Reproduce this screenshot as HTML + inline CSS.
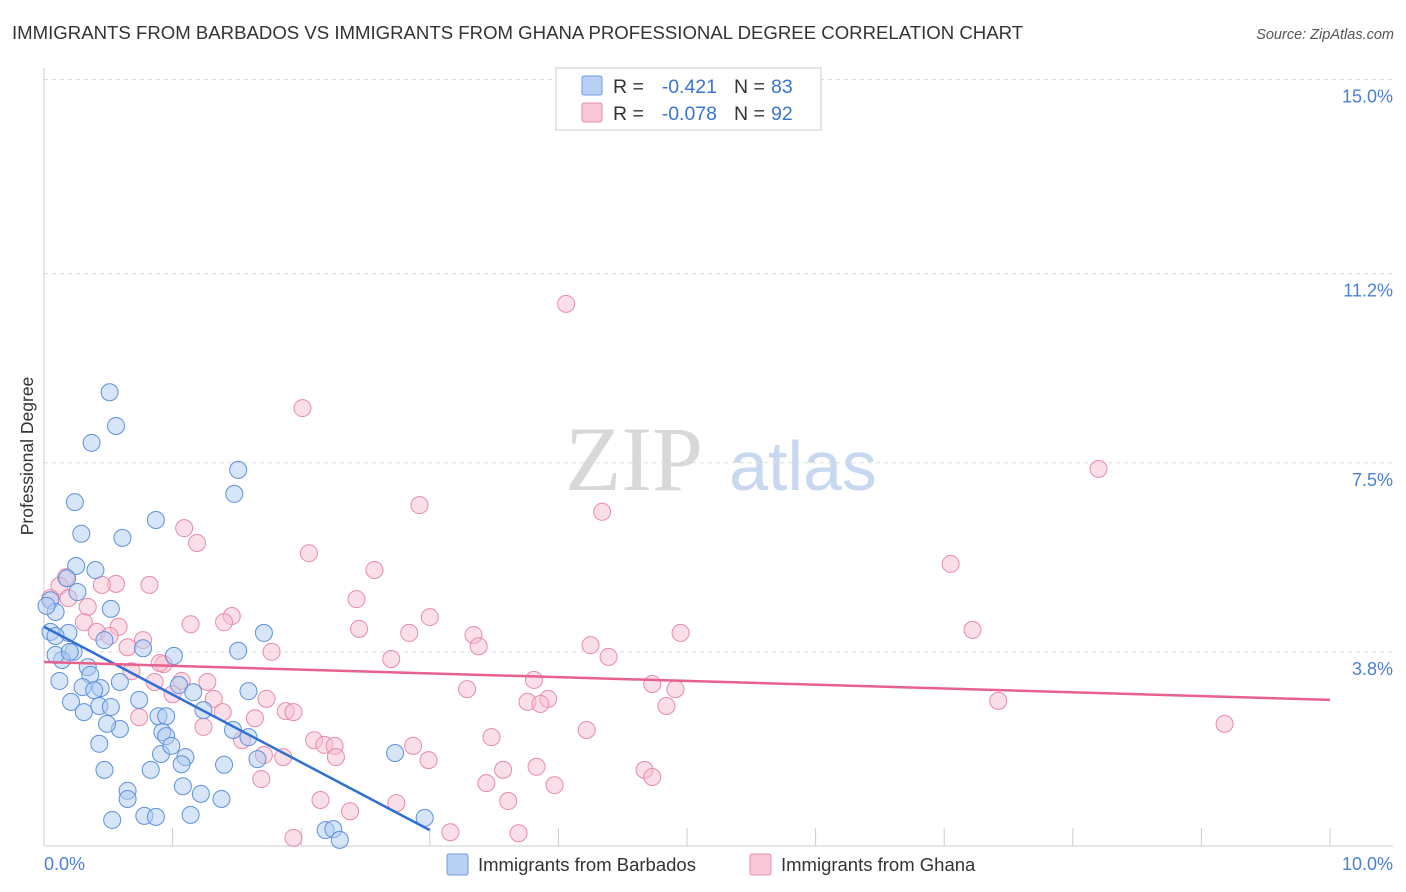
<!DOCTYPE html>
<html><head><meta charset="utf-8">
<style>
body{margin:0;background:#fff;font-family:"Liberation Sans",sans-serif;}
#wrap{position:relative;width:1406px;height:892px;overflow:hidden;}
</style></head>
<body>
<div id="wrap">
<svg id="svg" width="1406" height="892" xmlns="http://www.w3.org/2000/svg">
<text x="12" y="39" font-size="18.6" fill="#333">IMMIGRANTS FROM BARBADOS VS IMMIGRANTS FROM GHANA PROFESSIONAL DEGREE CORRELATION CHART</text>
<text x="1394" y="39" font-size="14.5" fill="#555" font-style="italic" text-anchor="end">Source: ZipAtlas.com</text>
<text transform="translate(33,456) rotate(-90)" font-size="17.5" fill="#333" text-anchor="middle">Professional Degree</text>
<g>
<text x="634" y="490" font-size="92" font-family="Liberation Serif,serif" fill="#d8d8d8" text-anchor="middle">ZIP</text>
<text x="803" y="490" font-size="70" fill="#c8d8f0" text-anchor="middle">atlas</text>
</g>
<g id="grid"></g>
<g id="axes"></g>
<g id="pts"></g>
<g id="trend"></g>
<g>
<rect x="556" y="68" width="265" height="62" fill="#fff" stroke="#ccc"/>
<rect x="582" y="76" width="20" height="19" fill="#b8d0f4" stroke="#6f9be0" rx="2"/>
<rect x="582" y="103" width="20" height="19" fill="#f8c8d8" stroke="#e890b0" rx="2"/>
<text x="613" y="93" font-size="19.5" fill="#333">R =</text>
<text x="717" y="93" font-size="19.5" fill="#3a74d0" text-anchor="end">-0.421</text>
<text x="734" y="93" font-size="19.5" fill="#333">N =</text>
<text x="771" y="93" font-size="19.5" fill="#3a74d0">83</text>
<text x="613" y="120" font-size="19.5" fill="#333">R =</text>
<text x="717" y="120" font-size="19.5" fill="#3a74d0" text-anchor="end">-0.078</text>
<text x="734" y="120" font-size="19.5" fill="#333">N =</text>
<text x="771" y="120" font-size="19.5" fill="#3a74d0">92</text>
</g>
<g>
<rect x="447" y="854" width="21" height="21" fill="#b8d0f4" stroke="#6f9be0" rx="2"/>
<text x="478" y="871" font-size="18.5" fill="#333">Immigrants from Barbados</text>
<rect x="750" y="854" width="21" height="21" fill="#f8c8d8" stroke="#e890b0" rx="2"/>
<text x="781" y="871" font-size="18.5" fill="#333">Immigrants from Ghana</text>
</g>
</svg>
</div>
<script>
const yTicks=[3.8,7.5,11.2,15.0];
const yTickLabels=["3.8%","7.5%","11.2%","15.0%"];
const xTickLabels=["0.0%","10.0%"];
const blueX=[.51,.56,.37,1.51,1.48,.24,.87,.29,.61,.25,.40,.18,.26,.05,.52,.09,.05,.19,1.71,.09,.47,1.01,.23,.77,1.51,.14,.09,.34,.36,.12,.30,.44,.59,.39,1.05,1.16,1.59,.21,.43,.74,.52,.31,1.24,.89,.95,.59,.49,1.47,.92,.95,1.59,.43,1.10,.91,.99,1.40,1.07,2.73,.47,.83,1.66,1.08,1.22,.65,.65,1.38,.53,.78,.87,1.14,2.96,2.19,2.25,2.30,.02,.20];
const blueY=[8.88,8.22,7.89,7.36,6.89,6.73,6.38,6.11,6.03,5.48,5.40,5.24,4.97,4.81,4.64,4.58,4.19,4.17,4.17,4.11,4.03,3.72,3.80,3.87,3.82,3.64,3.74,3.50,3.35,3.23,3.11,3.09,3.21,3.05,3.15,3.01,3.03,2.82,2.74,2.86,2.72,2.62,2.66,2.54,2.54,2.29,2.39,2.27,2.23,2.15,2.13,2.00,1.74,1.80,1.96,1.59,1.60,1.82,1.49,1.49,1.70,1.17,1.02,1.08,.92,.92,.51,.59,.57,.61,.55,.31,.33,.12,4.70,3.80];
const pinkX=[4.06,2.01,8.20,2.92,4.34,1.09,1.19,2.06,7.05,2.57,.17,.12,.56,.82,.45,.05,.19,.34,2.43,1.46,1.14,1.40,3.00,.31,.58,7.22,2.45,2.84,3.34,4.95,.41,.51,.77,.65,3.38,4.25,1.77,4.39,.93,2.70,.68,.90,3.81,1.27,1.07,.86,3.29,4.73,4.91,1.00,1.32,1.73,3.92,7.42,3.76,3.86,4.84,1.88,1.94,1.39,1.64,.74,1.24,9.18,4.22,3.48,2.10,2.18,2.26,1.54,2.27,2.87,1.86,2.99,3.57,3.83,4.67,4.73,1.69,3.44,3.97,2.15,3.61,2.74,2.38,1.94,3.16,3.69,1.71];
const pinkY=[10.61,8.57,7.38,6.67,6.54,6.22,5.93,5.73,5.52,5.40,5.26,5.09,5.13,5.11,5.11,4.85,4.85,4.68,4.83,4.50,4.34,4.38,4.48,4.38,4.29,4.23,4.25,4.17,4.13,4.17,4.19,4.11,4.03,3.89,3.91,3.93,3.80,3.70,3.56,3.66,3.42,3.58,3.25,3.21,3.23,3.21,3.07,3.17,3.07,2.97,2.88,2.88,2.88,2.84,2.82,2.78,2.74,2.64,2.62,2.62,2.50,2.52,2.33,2.39,2.27,2.13,2.07,1.98,1.96,2.07,1.74,1.96,1.74,1.68,1.49,1.55,1.49,1.35,1.31,1.23,1.19,.90,.88,.84,.68,.16,.27,.25,1.78];
const blueTrend=[[0,4.29],[3.0,0.31]];
const pinkTrend=[[0,3.60],[10,2.86]];
const NS="http://www.w3.org/2000/svg";
function xs(v){return 44+v*128.6;}
function ys(v){return 846-v*51.1;}
function mk(tag,attrs,parent){const e=document.createElementNS(NS,tag);for(const k in attrs)e.setAttribute(k,attrs[k]);document.getElementById(parent).appendChild(e);return e;}
yTicks.forEach((t,i)=>{
 const g=mk('line',{x1:44,x2:1393,y1:ys(t),y2:ys(t),stroke:'#ddd','stroke-dasharray':'4,4'},'grid');
 
 
 const l=mk('text',{x:1393,y:ys(t)+23,'font-size':18,fill:'#4a7fd4','text-anchor':'end'},'grid');
 l.textContent=yTickLabels[i];
 
 
});
const ax=mk('line',{x1:44,x2:44,y1:68,y2:846,stroke:'#ccc'},'axes');


const bx=mk('line',{x1:44,x2:1393,y1:846,y2:846,stroke:'#ccc'},'axes');


for(let i=1;i<=10;i++){
 const t=mk('line',{x1:xs(i),x2:xs(i),y1:828,y2:846,stroke:'#ccc'},'axes');
 
 
}
[[0,'start',44],[10,'end',1393]].forEach((a,i)=>{
 const l=mk('text',{x:a[2],y:870,'font-size':18,fill:'#4a7fd4','text-anchor':a[1]},'axes');
 l.textContent=xTickLabels[i];
 
 
});
function pts(X,Y,fill,stroke,name){
 X.forEach((x,i)=>{
  const c=mk('circle',{cx:xs(x),cy:ys(Y[i]),r:8.5,fill:fill,'fill-opacity':0.5,stroke:stroke,'stroke-width':1},'pts');
  
  
 });
}
pts(pinkX,pinkY,'#f8c0d2','#e88aaa','ghana-point');
pts(blueX,blueY,'#aecbf2','#5f90dc','barbados-point');
const bl=mk('line',{x1:xs(blueTrend[0][0]),y1:ys(blueTrend[0][1]),x2:xs(blueTrend[1][0]),y2:ys(blueTrend[1][1]),stroke:'#2f6fd6','stroke-width':2.5},'trend');


const pl=mk('line',{x1:xs(pinkTrend[0][0]),y1:ys(pinkTrend[0][1]),x2:xs(pinkTrend[1][0]),y2:ys(pinkTrend[1][1]),stroke:'#e8608c','stroke-width':2.5},'trend');


</script>
</body></html>
